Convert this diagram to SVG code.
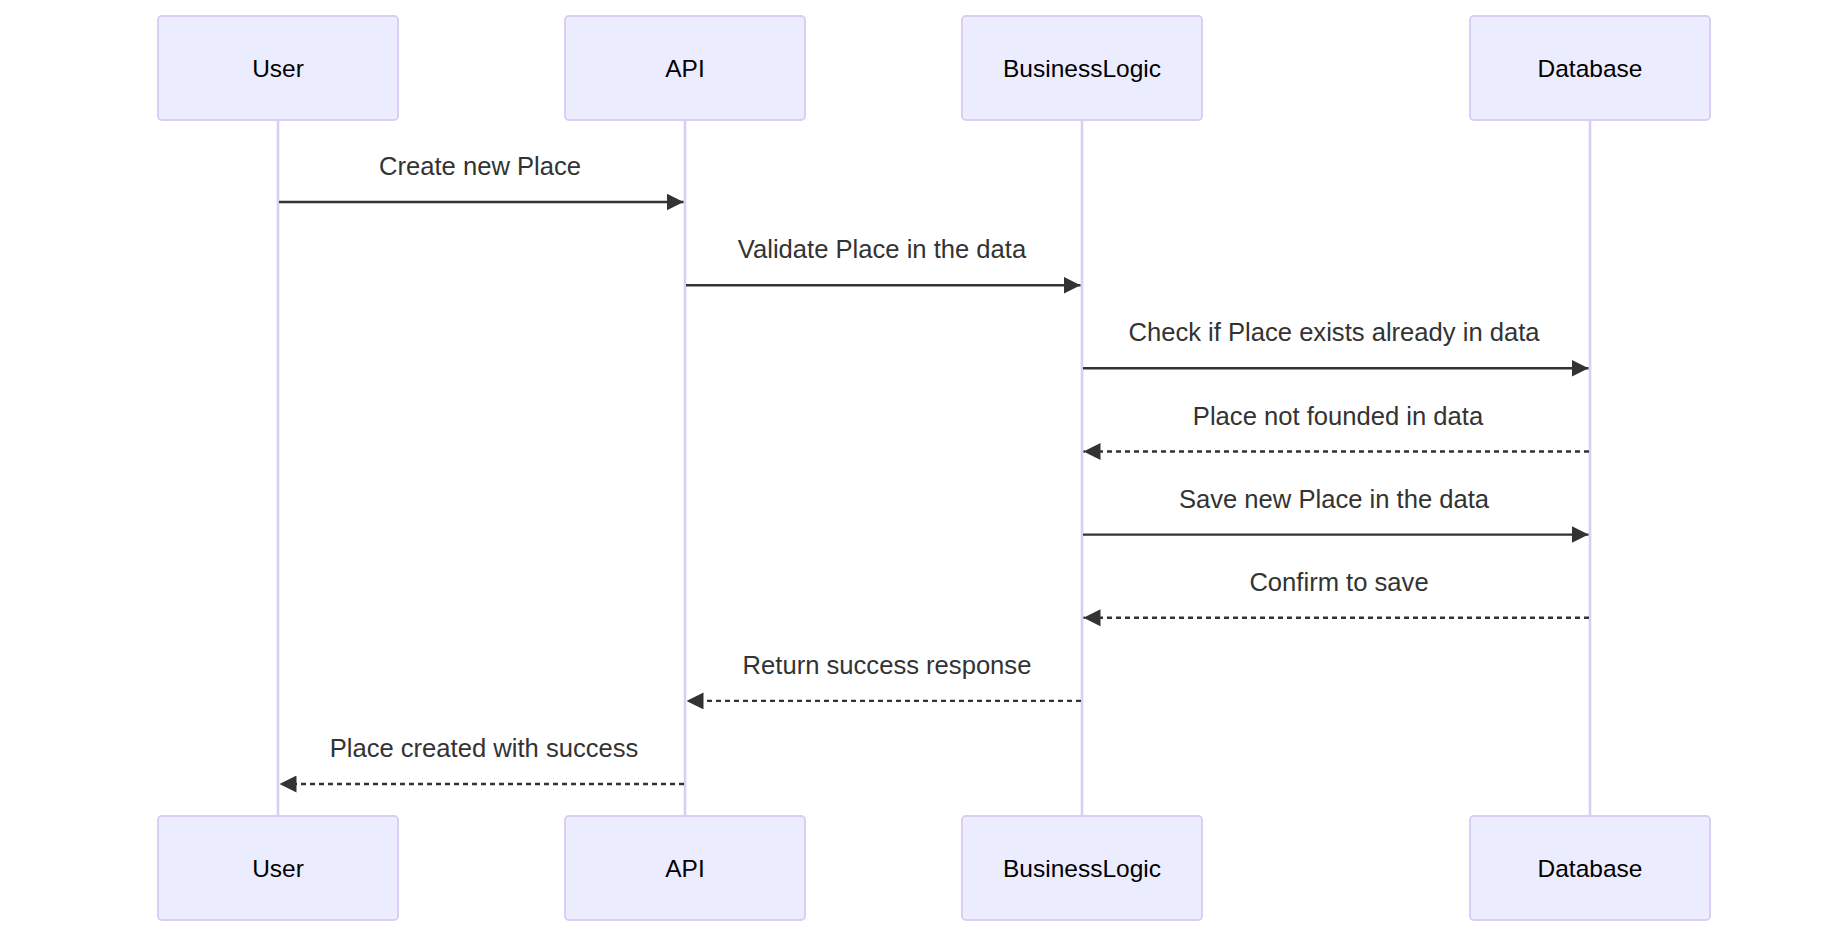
<svg xmlns="http://www.w3.org/2000/svg" width="1842" height="945" viewBox="0 0 1842 945">
<style>
.actor{fill:#ECECFF;stroke:#DACFF3;stroke-width:2}
.actor-text{font-family:"Liberation Sans",Arial,sans-serif;font-size:24.5px;fill:#000;text-anchor:middle;dominant-baseline:central}
.life{stroke:#DACFF3;stroke-width:2.7}
.msg{stroke:#333;stroke-width:2.4;fill:none}
.dotted{stroke-dasharray:5,4}
.label{font-family:"Liberation Sans",Arial,sans-serif;font-size:25.6px;fill:#333;text-anchor:middle}
</style>
<defs>
<marker id="arrowhead" viewBox="0 0 10 10" refX="10" refY="5" markerUnits="userSpaceOnUse" markerWidth="17" markerHeight="17" orient="auto">
<path d="M0,0 L10,5 L0,10 z" fill="#333"/>
</marker>
</defs>
<rect width="1842" height="945" fill="#fff"/>
<g id="lifelines">
<line class="life" x1="278" y1="120" x2="278" y2="816"/>
<line class="life" x1="685" y1="120" x2="685" y2="816"/>
<line class="life" x1="1082" y1="120" x2="1082" y2="816"/>
<line class="life" x1="1590" y1="120" x2="1590" y2="816"/>
</g>
<g id="actor-user-top"><rect class="actor" x="158" y="16" width="240" height="104" rx="4"/><text class="actor-text" x="278" y="68">User</text></g>
<g id="actor-api-top"><rect class="actor" x="565" y="16" width="240" height="104" rx="4"/><text class="actor-text" x="685" y="68">API</text></g>
<g id="actor-bl-top"><rect class="actor" x="962" y="16" width="240" height="104" rx="4"/><text class="actor-text" x="1082" y="68">BusinessLogic</text></g>
<g id="actor-db-top"><rect class="actor" x="1470" y="16" width="240" height="104" rx="4"/><text class="actor-text" x="1590" y="68">Database</text></g>
<g id="actor-user-bottom"><rect class="actor" x="158" y="816" width="240" height="104" rx="4"/><text class="actor-text" x="278" y="868">User</text></g>
<g id="actor-api-bottom"><rect class="actor" x="565" y="816" width="240" height="104" rx="4"/><text class="actor-text" x="685" y="868">API</text></g>
<g id="actor-bl-bottom"><rect class="actor" x="962" y="816" width="240" height="104" rx="4"/><text class="actor-text" x="1082" y="868">BusinessLogic</text></g>
<g id="actor-db-bottom"><rect class="actor" x="1470" y="816" width="240" height="104" rx="4"/><text class="actor-text" x="1590" y="868">Database</text></g>
<g id="connectors">
<line class="msg" x1="279" y1="202" x2="683.5" y2="202" marker-end="url(#arrowhead)"/>
<line class="msg" x1="686" y1="285.2" x2="1080.5" y2="285.2" marker-end="url(#arrowhead)"/>
<line class="msg" x1="1083" y1="368.3" x2="1588.5" y2="368.3" marker-end="url(#arrowhead)"/>
<line class="msg dotted" x1="1589" y1="451.5" x2="1083.5" y2="451.5" marker-end="url(#arrowhead)"/>
<line class="msg" x1="1083" y1="534.6" x2="1588.5" y2="534.6" marker-end="url(#arrowhead)"/>
<line class="msg dotted" x1="1589" y1="617.8" x2="1083.5" y2="617.8" marker-end="url(#arrowhead)"/>
<line class="msg dotted" x1="1081" y1="700.9" x2="686.5" y2="700.9" marker-end="url(#arrowhead)"/>
<line class="msg dotted" x1="684" y1="784" x2="279.5" y2="784" marker-end="url(#arrowhead)"/>
</g>
<g id="labels">
<text class="label" x="480" y="175">Create new Place</text>
<text class="label" x="882" y="258.2">Validate Place in the data</text>
<text class="label" x="1334" y="341.3">Check if Place exists already in data</text>
<text class="label" x="1338" y="424.5">Place not founded in data</text>
<text class="label" x="1334" y="507.6">Save new Place in the data</text>
<text class="label" x="1339" y="590.8">Confirm to save</text>
<text class="label" x="887" y="673.9">Return success response</text>
<text class="label" x="484" y="757">Place created with success</text>
</g>
</svg>
